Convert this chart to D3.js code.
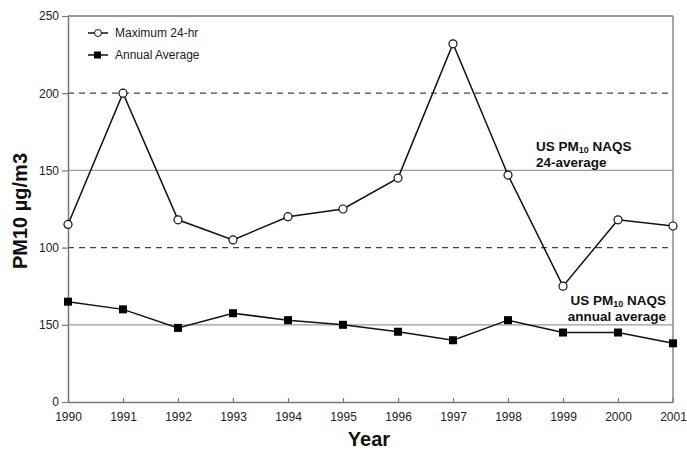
<!DOCTYPE html>
<html lang="en">
<head>
<meta charset="UTF-8">
<title>PM10</title>
<script src="https://d3js.org/d3.v7.min.js"></script>
<style>
  body { margin: 0; background: #fff; }
  text { font-family: "Liberation Sans", Arial, sans-serif; }
</style>
</head>
<body>
<svg width="687" height="451"></svg>
<script>
const years = [1990, 1991, 1992, 1993, 1994, 1995, 1996, 1997, 1998, 1999, 2000, 2001];
const max24 = [115, 200, 118, 105, 120, 125, 145, 232, 147, 75, 118, 114];
const annualAvg = [65, 60, 48, 57.5, 53, 50, 45.5, 40, 53, 45, 45, 38];
const yTicks = [0, 50, 100, 150, 200, 250];
const yTickLabels = ["0", "150", "100", "150", "200", "250"];
const dashedLevels = [200, 100];
const solidLevels = [150, 50];

const svg = d3.select("svg"),
      margin = {top: 16, right: 14, bottom: 49, left: 68},
      width = +svg.attr("width") - margin.left - margin.right,
      height = +svg.attr("height") - margin.top - margin.bottom;

const g = svg.append("g").attr("transform", `translate(${margin.left},${margin.top})`);

const x = d3.scaleLinear().domain([1990, 2001]).range([0, width]);
const y = d3.scaleLinear().domain([0, 250]).range([height, 0]);

// reference lines
g.selectAll(".solid").data(solidLevels).enter().append("line")
  .attr("x1", 0).attr("x2", width)
  .attr("y1", d => y(d)).attr("y2", d => y(d))
  .attr("stroke", "#9a9a9a").attr("stroke-width", 1.2);

g.selectAll(".dash").data(dashedLevels).enter().append("line")
  .attr("x1", 0).attr("x2", width)
  .attr("y1", d => y(d)).attr("y2", d => y(d))
  .attr("stroke", "#444").attr("stroke-width", 1.2)
  .attr("stroke-dasharray", "6,5");

// frame (top and right)
g.append("line").attr("x1", 0).attr("x2", width).attr("y1", 0).attr("y2", 0)
  .attr("stroke", "#777").attr("stroke-width", 1.3);
g.append("line").attr("x1", width).attr("x2", width).attr("y1", 0).attr("y2", height)
  .attr("stroke", "#777").attr("stroke-width", 1.3);

// axes
const xAxis = g.append("g")
  .attr("transform", `translate(0,${height})`)
  .call(d3.axisBottom(x).tickValues(years).tickFormat(d3.format("d")).tickSizeInner(-4).tickSizeOuter(0).tickPadding(10));
const yAxis = g.append("g")
  .call(d3.axisLeft(y).tickValues(yTicks).tickFormat((d, i) => yTickLabels[i]).tickSize(6).tickSizeOuter(0).tickPadding(3));

[xAxis, yAxis].forEach(a => {
  a.select(".domain").attr("stroke", "#777").attr("stroke-width", 1.5);
  a.selectAll(".tick line").attr("stroke", "#777").attr("stroke-width", 1.2);
  a.selectAll("text").attr("fill", "#222").style("font-size", "12px");
});

// series
const line = d3.line().x((d, i) => x(years[i])).y(d => y(d));

g.append("path").datum(annualAvg).attr("d", line)
  .attr("fill", "none").attr("stroke", "#111").attr("stroke-width", 1.5);
g.selectAll(".sq").data(annualAvg).enter().append("rect")
  .attr("x", (d, i) => x(years[i]) - 4).attr("y", d => y(d) - 4)
  .attr("width", 8).attr("height", 8).attr("fill", "#000");

g.append("path").datum(max24).attr("d", line)
  .attr("fill", "none").attr("stroke", "#111").attr("stroke-width", 1.5);
g.selectAll(".circ").data(max24).enter().append("circle")
  .attr("cx", (d, i) => x(years[i])).attr("cy", d => y(d))
  .attr("r", 4).attr("fill", "#fff").attr("stroke", "#111").attr("stroke-width", 1.2);

// legend
const leg = g.append("g").attr("transform", "translate(20,17)");
leg.append("line").attr("x1", 0).attr("x2", 20).attr("y1", 0).attr("y2", 0).attr("stroke", "#111").attr("stroke-width", 1.5);
leg.append("circle").attr("cx", 10).attr("cy", 0).attr("r", 3.5).attr("fill", "#fff").attr("stroke", "#111");
leg.append("text").attr("x", 27).attr("y", 4).text("Maximum 24-hr").style("font-size", "12px").attr("fill", "#222");
leg.append("line").attr("x1", 0).attr("x2", 20).attr("y1", 22).attr("y2", 22).attr("stroke", "#111").attr("stroke-width", 1.5);
leg.append("rect").attr("x", 6).attr("y", 18.5).attr("width", 7).attr("height", 7).attr("fill", "#000");
leg.append("text").attr("x", 27).attr("y", 26).text("Annual Average").style("font-size", "12px").attr("fill", "#222");

// annotations
function naqs(tx, ty, line2, anchor) {
  const t = g.append("text").attr("x", tx).attr("y", ty).attr("text-anchor", anchor)
    .style("font-size", "13.5px").style("font-weight", "bold").attr("fill", "#111");
  t.append("tspan").text("US PM");
  t.append("tspan").attr("dy", 2).style("font-size", "9px").text("10");
  t.append("tspan").attr("dy", -2).text(" NAQS");
  g.append("text").attr("x", tx).attr("y", ty + 16).attr("text-anchor", anchor)
    .style("font-size", "13.5px").style("font-weight", "bold").attr("fill", "#111").text(line2);
}
naqs(536 - margin.left, 151 - margin.top, "24-average", "start");
naqs(666 - margin.left, 305 - margin.top, "annual average", "end");

// axis titles
svg.append("text").attr("x", 369).attr("y", 446).attr("text-anchor", "middle")
  .style("font-size", "20px").style("font-weight", "bold").attr("fill", "#111").text("Year");
svg.append("text").attr("transform", "translate(27,211) rotate(-90)").attr("text-anchor", "middle")
  .style("font-size", "20px").style("font-weight", "bold").attr("fill", "#111").text("PM10 µg/m3");
</script>
</body>
</html>
